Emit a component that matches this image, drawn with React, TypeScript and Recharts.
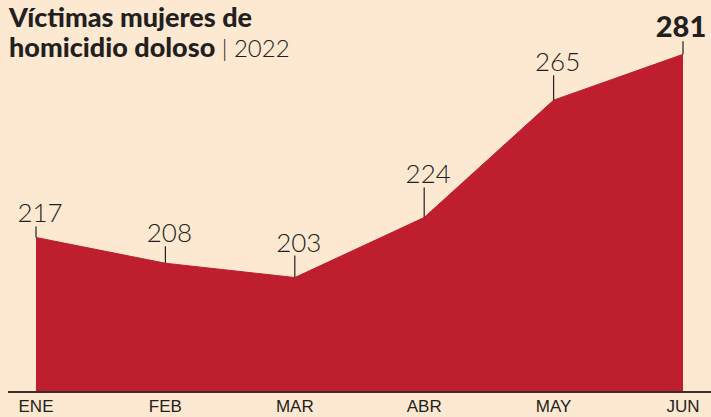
import { AreaChart, Area, XAxis, YAxis, LabelList, ReferenceLine } from 'recharts';

const months = ['ENE', 'FEB', 'MAR', 'ABR', 'MAY', 'JUN'];
const victims = [217, 208, 203, 224, 265, 281];

// length of the little leader line above each point
const leaders = [11, 17, 22, 30, 25, 13];

const data = months.map((m, i) => ({ month: m, value: victims[i] }));

const RED = '#be1e2d';
const INK = '#231f20';
const BG = '#fde8d2';

const PointLabel = (props: any) => {
  const { x, y, value, index } = props;
  const len = leaders[index] ?? 15;
  const last = index === victims.length - 1;
  return (
    <g>
      <line x1={x} y1={y} x2={x} y2={y - len} stroke={INK} strokeWidth={1.2} />
      <text
        x={x + (last ? -2 : 4)}
        y={y - len - 4}
        textAnchor="middle"
        fill={INK}
        fontFamily="Lato, 'DejaVu Sans', sans-serif"
        fontWeight={last ? 900 : 300}
        fontSize={last ? 29 : 26}
      >
        {value}
      </text>
    </g>
  );
};

const BaseLine = (props: any) => {
  const { x1, y1 } = props;
  if (x1 == null) return null;
  return <line x1={8} x2={711} y1={y1} y2={y1} stroke="#3a2e25" strokeWidth={2} />;
};

export default function App() {
  return (
    <div style={{ position: 'absolute', left: 0, top: 0, width: 711, height: 417, background: BG, overflow: 'hidden' }}>
      <div
        style={{
          position: 'absolute',
          left: 9,
          top: 2,
          fontFamily: "Lato, 'DejaVu Sans', sans-serif",
          fontWeight: 900,
          fontSize: 27,
          lineHeight: '30px',
          color: INK,
          zIndex: 2,
        }}
      >
        <div>Víctimas mujeres de</div>
        <div>
          homicidio doloso <span style={{ fontWeight: 300, fontSize: 24 }}>| 2022</span>
        </div>
      </div>
      <AreaChart width={711} height={417} data={data} margin={{ top: 0, right: 28, left: 36, bottom: 0 }}>
        <XAxis
          dataKey="month"
          height={25}
          axisLine={false}
          tickLine={false}
          interval={0}
          tick={{ fill: INK, fontSize: 17, fontFamily: "'Liberation Sans Narrow', 'Liberation Sans', sans-serif" }}
          padding={{ left: 0, right: 0 }}
        />
        <YAxis hide domain={[163, 300]} />
        <Area
          type="linear"
          dataKey="value"
          stroke={RED}
          strokeWidth={1}
          fill={RED}
          fillOpacity={1}
          isAnimationActive={false}
        >
          <LabelList dataKey="value" content={PointLabel} />
        </Area>
        <ReferenceLine y={163} shape={BaseLine} />
      </AreaChart>
    </div>
  );
}
